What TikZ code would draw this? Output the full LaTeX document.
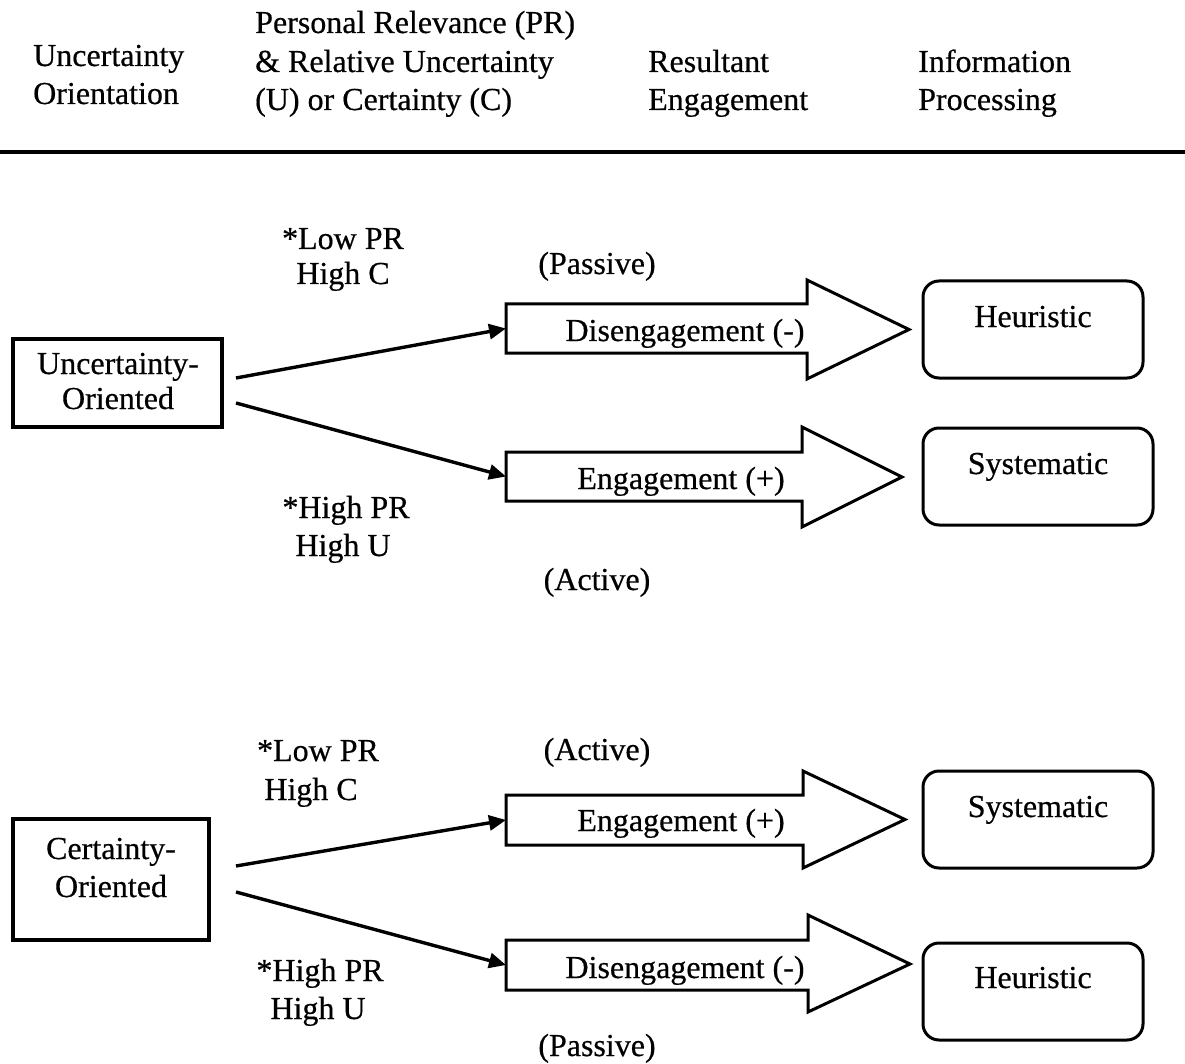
\documentclass[tikz,border=0pt]{standalone}
\usepackage{fontspec}
\setmainfont{Liberation Serif}[FakeBold=0.5]
\newfontfamily\reffont{Liberation Serif}[FakeBold=0.5]
\usetikzlibrary{arrows.meta}
\begin{document}
\begin{tikzpicture}[x=1pt,y=-1pt,
  txt/.style={font=\reffont\fontsize{32}{38}\selectfont, inner sep=0pt, anchor=base},
  hdr/.style={font=\reffont\fontsize{32}{38}\selectfont, inner sep=0pt, anchor=base west},
  obox/.style={draw, line width=3.2pt},
  pbox/.style={draw, line width=3pt, rounded corners=16pt},
  blk/.style={draw, line width=3pt, line join=miter},
  conn/.style={line width=3.4pt, -{Triangle[length=17pt,width=15pt]}},
]
\useasboundingbox (0,0) rectangle (1185,1064);

% header
\node[hdr] (h1a) at (33,66) {Uncertainty};
\node[hdr] (h1b) at (33,104) {Orientation};
\node[hdr] (h2a) at (255,33) {Personal Relevance (PR)};
\node[hdr] (h2b) at (255,72) {\& Relative Uncertainty};
\node[hdr] (h2c) at (255,110) {(U) or Certainty (C)};
\node[hdr] (h3a) at (648,72) {Resultant};
\node[hdr] (h3b) at (648,110) {Engagement};
\node[hdr] (h4a) at (918,72) {Information};
\node[hdr] (h4b) at (918,110) {Processing};
\coordinate (ruleL) at (0,152);
\coordinate (ruleR) at (1185,152);
\draw[line width=4.5pt] (ruleL) -- (ruleR);

% ---------- upper panel ----------
\node[obox, minimum width=209pt, minimum height=88pt] (uo) at (117.5,383) {};
\node[txt] (uot1) at (118,374) {Uncertainty-};
\node[txt] (uot2) at (118,409) {Oriented};

\draw[blk] (506,304) -- (807,304) -- (807,280) -- (909,329.5) -- (807,379) -- (807,353) -- (506,353) -- cycle;
\draw[blk] (506,452) -- (802,452) -- (802,427) -- (902,477) -- (802,527) -- (802,501) -- (506,501) -- cycle;
\coordinate (a1in) at (506,328.5);
\coordinate (a2in) at (506,476.5);
\node[txt] (a1t) at (685,341) {Disengagement (-)};
\node[txt] (a2t) at (681,489) {Engagement (+)};

\coordinate (uoA) at (236,378);
\coordinate (uoB) at (236,403);
\draw[conn] (uoA) -- (a1in);
\draw[conn] (uoB) -- (a2in);

\node[txt] (l1a) at (343,249) {*Low PR};
\node[txt] (l1b) at (343,284) {High C};
\node[txt] (p1) at (597,274) {(Passive)};
\node[txt] (l2a) at (346,518) {*High PR};
\node[txt] (l2b) at (343,556) {High U};
\node[txt] (ac1) at (597,590) {(Active)};

\node[pbox, minimum width=220pt, minimum height=97pt] (heu1) at (1033,329.5) {};
\node[txt] (heu1t) at (1033,327) {Heuristic};
\node[pbox, minimum width=230pt, minimum height=97pt] (sys1) at (1038,476.5) {};
\node[txt] (sys1t) at (1038,474) {Systematic};

% ---------- lower panel ----------
\node[obox, minimum width=196pt, minimum height=121pt] (co) at (111,879.5) {};
\node[txt] (cot1) at (111,859) {Certainty-};
\node[txt] (cot2) at (111,897) {Oriented};

\draw[blk] (506,795) -- (803,795) -- (803,771) -- (905,819.5) -- (803,868) -- (803,845) -- (506,845) -- cycle;
\draw[blk] (506,940) -- (808,940) -- (808,915) -- (910,964) -- (808,1012) -- (808,990) -- (506,990) -- cycle;
\coordinate (a3in) at (506,820);
\coordinate (a4in) at (506,965);
\node[txt] (a3t) at (681,831) {Engagement (+)};
\node[txt] (a4t) at (685,978) {Disengagement (-)};

\coordinate (coA) at (236,866);
\coordinate (coB) at (236,892);
\draw[conn] (coA) -- (a3in);
\draw[conn] (coB) -- (a4in);

\node[txt] (l3a) at (318,761) {*Low PR};
\node[txt] (l3b) at (311,800) {High C};
\node[txt] (ac2) at (597,760) {(Active)};
\node[txt] (l4a) at (320,981) {*High PR};
\node[txt] (l4b) at (318,1019) {High U};
\node[txt] (p2) at (597,1056) {(Passive)};

\node[pbox, minimum width=230pt, minimum height=97pt] (sys2) at (1038,819.5) {};
\node[txt] (sys2t) at (1038,817) {Systematic};
\node[pbox, minimum width=220pt, minimum height=97pt] (heu2) at (1033,991.5) {};
\node[txt] (heu2t) at (1033,988) {Heuristic};
\end{tikzpicture}
\end{document}
